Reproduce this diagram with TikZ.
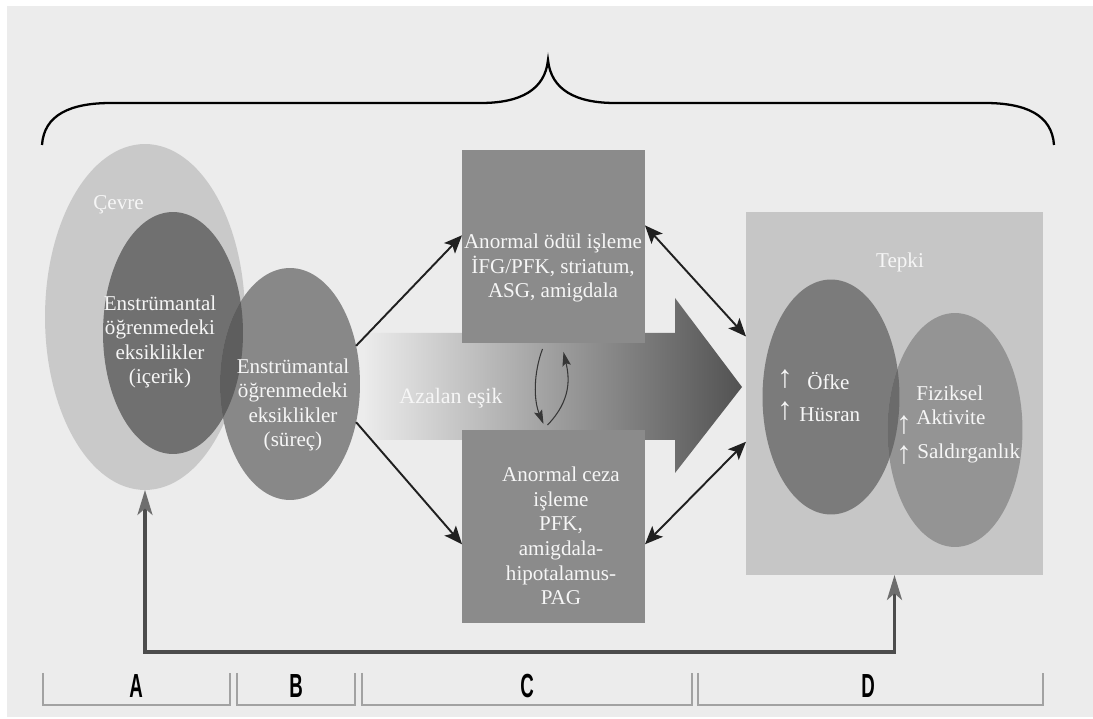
\documentclass[tikz,border=0pt]{standalone}
\usepackage{fontspec}
\setmainfont{Liberation Serif}
\newfontfamily\labfont[FakeStretch=0.56]{Liberation Sans}
\usetikzlibrary{shapes.geometric,arrows.meta,calc}
\definecolor{bgc}{HTML}{ECECEC}
\definecolor{cevc}{HTML}{C9C9C9}
\definecolor{icc}{HTML}{707070}
\definecolor{suc}{HTML}{888888}
\definecolor{ovl}{HTML}{5E5E5E}
\definecolor{rectc}{HTML}{8B8B8B}
\definecolor{panc}{HTML}{C6C6C6}
\definecolor{ofc}{HTML}{7B7B7B}
\definecolor{fizc}{HTML}{949494}
\definecolor{ovr}{HTML}{6B6B6B}
\definecolor{txtc}{HTML}{F6F6F6}
\definecolor{arrc}{HTML}{202020}
\definecolor{fbc}{HTML}{4C4C4C}
\definecolor{fbh}{HTML}{6E6E6E}
\definecolor{brkc}{HTML}{A2A2A2}
\definecolor{shL}{HTML}{EBEBEB}
\definecolor{shM}{HTML}{ABABAB}
\definecolor{shR}{HTML}{525252}
\tikzset{
  txt/.style={text=txtc, font=\fontsize{12}{14}\selectfont, align=center, inner sep=0pt},
  uparr/.style={text=txtc, font=\fontsize{18}{18}\selectfont, inner sep=0pt},
  ell/.style={ellipse, inner sep=0pt, outer sep=0pt, draw=none},
  box/.style={rectangle, inner sep=0pt, outer sep=0pt, draw=none},
  blk/.style={draw=arrc, line width=1.1pt, -{Stealth[length=0.36cm,width=0.3cm,inset=0.08cm]}},
  dbl/.style={draw=arrc, line width=1.1pt, {Stealth[length=0.36cm,width=0.3cm,inset=0.08cm]}-{Stealth[length=0.36cm,width=0.3cm,inset=0.08cm]}},
  fb/.style={draw=fbc, line width=1.9pt, {Stealth[length=0.5cm,width=0.3cm,inset=0.13cm,color=fbh]}-{Stealth[length=0.5cm,width=0.3cm,inset=0.13cm,color=fbh]}},
  cyc/.style={draw=arrc!90, line width=0.6pt, -{Stealth[length=0.28cm,width=0.17cm,inset=0.05cm]}},
  brk/.style={draw=brkc, line width=0.8pt},
  lab/.style={font=\labfont\bfseries\fontsize{19}{20}\selectfont, text=black, inner sep=0pt},
  brace/.style={draw=black, line width=1.3pt}
}
\begin{document}
\begin{tikzpicture}[x=0.02cm,y=-0.02cm]
\fill[white] (0,0) rectangle (1093,719);
\fill[bgc] (7,6) rectangle (1093,717);
\useasboundingbox (0,0) rectangle (1093,719);

% brace
\draw[brace] (42,145) .. controls (44,115) and (70,103) .. (111,103) -- (481,103)
  .. controls (520,103) and (545,90) .. (548,60)
  .. controls (551,90) and (576,103) .. (615,103) -- (985,103)
  .. controls (1026,103) and (1052,115) .. (1054,145);

% big shaded arrow
\shade[left color=shL, middle color=shM, right color=shR]
  (365,333) -- (675,333) -- (675,298) -- (742,387) -- (675,473) -- (675,440) -- (365,440) -- cycle;
\node[txt, font=\fontsize{12.5}{14}\selectfont] (azT) at (451,398) {Azalan eşik};

% left ellipses
\node[ell, fill=cevc, minimum width=4cm, minimum height=6.92cm] (cev) at (145,317) {};
\node[ell, fill=icc, minimum width=2.8cm, minimum height=4.84cm] (ic) at (173,333) {};
\node[ell, fill=suc, minimum width=2.8cm, minimum height=4.64cm] (su) at (290,384) {};
\begin{scope}
  \clip (ic.center) ellipse [x radius=1.4cm, y radius=2.42cm];
  \fill[ovl] (su.center) ellipse [x radius=1.4cm, y radius=2.32cm];
\end{scope}
\node[txt, anchor=west] (cevT) at (93,205) {Çevre};
\node[txt] (icT) at (160,342) {Enstrümantal\\öğrenmedeki\\eksiklikler\\(içerik)};
\node[txt] (suT) at (293,405) {Enstrümantal\\öğrenmedeki\\eksiklikler\\(süreç)};

% centre boxes
\node[box, fill=rectc, minimum width=3.66cm, minimum height=3.86cm] (top) at (553.5,246.5) {};
\node[box, fill=rectc, minimum width=3.66cm, minimum height=3.86cm] (bot) at (553.5,526.5) {};
\node[txt] (topT) at (553,268) {Anormal ödül işleme\\İFG/PFK, striatum,\\ASG, amigdala};
\node[txt] (botT) at (561,536) {Anormal ceza\\işleme\\PFK,\\amigdala-\\hipotalamus-\\PAG};

% cycle arrows
\draw[cyc] ([shift={(-11,6)}]top.south) .. controls ([shift={(-20,30)}]top.south) and ([shift={(-20,-30)}]bot.north) .. ([shift={(-10,-6)}]bot.north);
\draw[cyc] ([shift={(-6,-5)}]bot.north) .. controls ([shift={(18,-30)}]bot.north) and ([shift={(16,35)}]top.south) .. ([shift={(10,9)}]top.south);

% right panel
\node[box, fill=panc, minimum width=5.94cm, minimum height=7.26cm] (panel) at (894.5,393.5) {};
\node[ell, fill=ofc, minimum width=2.74cm, minimum height=4.7cm] (of) at (831,397) {};
\node[ell, fill=fizc, minimum width=2.7cm, minimum height=4.68cm] (fiz) at (955,430) {};
\begin{scope}
  \clip (of.center) ellipse [x radius=1.37cm, y radius=2.35cm];
  \fill[ovr] (fiz.center) ellipse [x radius=1.35cm, y radius=2.34cm];
\end{scope}
\node[txt] (tepT) at (900,262) {Tepki};
\node[uparr] (up1) at (785,379) {↑};
\node[txt, anchor=west] (ofT) at (807,381) {Öfke};
\node[uparr] (up2) at (785,411) {↑};
\node[txt, anchor=west] (huT) at (799,415) {Hüsran};
\node[txt, anchor=west] (fiT) at (916,393) {Fiziksel};
\node[txt, anchor=west] (akT) at (916,417) {Aktivite};
\node[uparr] (up3) at (904,425) {↑};
\node[txt, anchor=west] (saT) at (917,453) {Saldırganlık};
\node[uparr] (up4) at (904,455) {↑};

% connectors
\draw[blk] (su.30) -- (top.173);
\draw[blk] (su.-30) -- (bot.191);
\draw[dbl] (top.13) -- (panel.159);
\draw[dbl] (bot.-11) -- (panel.198);

% feedback
\coordinate (fbl) at (145,652);
\draw[fb] (cev.south) -- (fbl) -| (panel.south);

% bottom brackets
\draw[brk] (43,673) -- (43,705) -- (230,705) -- (230,673);
\draw[brk] (237,673) -- (237,705) -- (355,705) -- (355,673);
\draw[brk] (362,673) -- (362,705) -- (692,705) -- (692,673);
\draw[brk] (698,673) -- (698,705) -- (1043,705) -- (1043,673);
\node[lab] (lA) at (136,686) {A};
\node[lab] (lB) at (296,686) {B};
\node[lab] (lC) at (527,686) {C};
\node[lab] (lD) at (868,686) {D};
\end{tikzpicture}
\end{document}
